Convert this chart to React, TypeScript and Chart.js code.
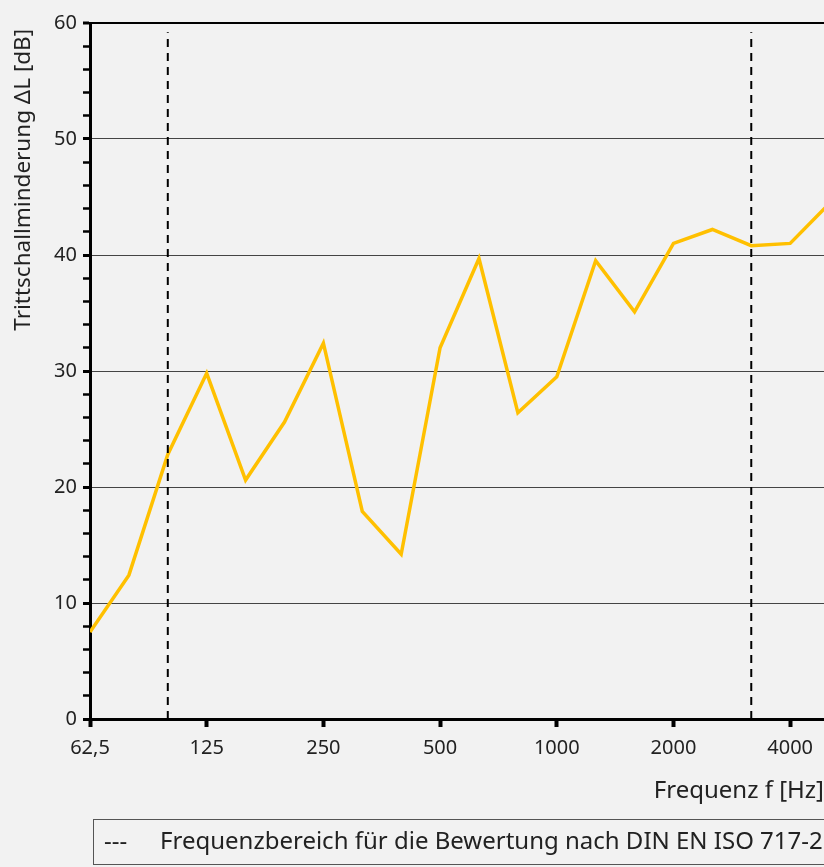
import React, { useEffect, useRef } from "react";
import { Chart, registerables } from "chart.js";

Chart.register(...registerables);

// third-octave band centre frequencies (Hz)
const bands = [
  "63", "80", "100", "125", "160", "200", "250", "315", "400", "500",
  "630", "800", "1000", "1250", "1600", "2000", "2500", "3150", "4000", "5000",
];
// Trittschallminderung ΔL [dB]
const deltaL = [
  7.5, 12.4, 22.8, 29.8, 20.6, 25.6, 32.4, 17.9, 14.2, 32.0,
  39.7, 26.4, 29.5, 39.5, 35.1, 41.0, 42.2, 40.8, 41.0, 44.4,
];
// octave tick labels and the band index they sit on
const xTickLabels = ["62,5", "125", "250", "500", "1000", "2000", "4000"];
const xTickBands = [0, 3, 6, 9, 12, 15, 18];
// evaluation range DIN EN ISO 717-2 (band index of 100 Hz and 3150 Hz)
const rangeBands = [2, 17];
const xMaxBand = 18.87;

const legendText = "Frequenzbereich für die Bewertung nach DIN EN ISO 717-2";
const FONT = "'Noto Sans', 'Open Sans', sans-serif";
const TEXT = "#222222";
const BG = "#f2f2f2";

const bgAndLegend = {
  id: "bgAndLegend",
  beforeDraw(chart: any) {
    const { ctx, width, height } = chart;
    ctx.save();
    ctx.fillStyle = BG;
    ctx.fillRect(0, 0, width, height);
    ctx.restore();
  },
  afterDraw(chart: any) {
    const { ctx } = chart;
    ctx.save();
    ctx.strokeStyle = "#555555";
    ctx.lineWidth = 1;
    ctx.strokeRect(93.5, 819.5, 800, 45);
    ctx.fillStyle = TEXT;
    ctx.font = `24px ${FONT}`;
    ctx.textBaseline = "middle";
    ctx.textAlign = "left";
    ctx.fillText("---", 104, 842);
    ctx.fillText(legendText, 160, 842);
    ctx.restore();
  },
};

export default function App() {
  const ref = useRef<HTMLCanvasElement | null>(null);

  useEffect(() => {
    document.body.style.margin = "0";
    document.body.style.background = BG;
    document.body.style.overflow = "hidden";
    if (!ref.current) return;

    const lineData = bands.map((_, i) => ({ x: i, y: deltaL[i] }));
    const dashSets = rangeBands.map((b) => ({
      type: "line" as const,
      data: [
        { x: b, y: 0 },
        { x: b, y: 59.2 },
      ],
      borderColor: "#000000",
      borderWidth: 2,
      borderDash: [8, 6],
      pointRadius: 0,
      fill: false,
    }));

    const chart = new Chart(ref.current, {
      type: "line",
      data: {
        datasets: [
          ...dashSets,
          {
            label: "ΔL",
            data: lineData,
            borderColor: "#FFC000",
            borderWidth: 3.5,
            pointRadius: 0,
            tension: 0,
            fill: false,
            clip: 0,
          } as any,
        ],
      },
      options: {
        responsive: false,
        animation: false,
        events: [],
        layout: { padding: { top: 23, right: 0, bottom: 57, left: 0 } },
        plugins: { legend: { display: false }, tooltip: { enabled: false } },
        scales: {
          x: {
            type: "linear",
            min: 0,
            max: xMaxBand,
            afterBuildTicks: (scale: any) => {
              scale.ticks = xTickBands.map((v) => ({ value: v }));
            },
            afterFit: (scale: any) => {
              scale.height = 91;
            },
            ticks: {
              autoSkip: false,
              maxRotation: 0,
              padding: 9,
              color: TEXT,
              font: { family: FONT, size: 20 },
              callback: (v: any) => {
                const idx = xTickBands.indexOf(Number(v));
                return idx >= 0 ? xTickLabels[idx] : "";
              },
            },
            grid: {
              drawOnChartArea: false,
              drawTicks: true,
              tickLength: 8,
              tickWidth: 4,
              tickColor: "#000000",
            },
            border: { display: true, color: "#000000", width: 3 },
            title: {
              display: true,
              text: "Frequenz f [Hz]",
              align: "end",
              color: TEXT,
              font: { family: FONT, size: 24 },
              padding: { top: 0, bottom: 4 },
            },
          },
          y: {
            type: "linear",
            min: 0,
            max: 60,
            afterFit: (scale: any) => {
              scale.width = 90;
            },
            ticks: {
              stepSize: 2,
              autoSkip: false,
              padding: 6,
              color: TEXT,
              font: { family: FONT, size: 20 },
              callback: (v: any) => (Number(v) % 10 === 0 ? String(v) : ""),
            },
            grid: {
              drawTicks: true,
              tickLength: 7,
              color: (ctx: any) => {
                const v = ctx.tick?.value;
                if (v === 60) return "#000000";
                if (v % 10 === 0 && v > 0) return "#444444";
                return "rgba(0,0,0,0)";
              },
              lineWidth: (ctx: any) => (ctx.tick?.value === 60 ? 2 : 1),
              tickColor: "#000000",
              tickWidth: (ctx: any) => (ctx.tick?.value % 10 === 0 ? 3 : 2.5),
            },
            border: { display: true, color: "#000000", width: 3 },
            title: {
              display: true,
              text: "Trittschallminderung ΔL [dB] ",
              align: "end",
              color: TEXT,
              font: { family: FONT, size: 22.5 },
              padding: { top: 10, bottom: 0 },
            },
          },
        },
      },
      plugins: [bgAndLegend],
    } as any);

    return () => chart.destroy();
  }, []);

  return (
    <div style={{ width: 824, height: 867, background: BG }}>
      <canvas ref={ref} width={824} height={867} style={{ display: "block", width: 824, height: 867 }} />
    </div>
  );
}
